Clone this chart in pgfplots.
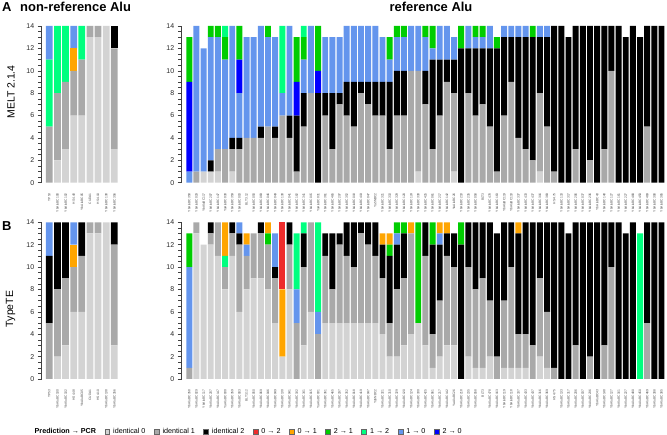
\documentclass[border=0pt]{standalone}
\usepackage{fontspec}
\setmainfont{Liberation Sans}
\usepackage{pgfplots}
\pgfplotsset{compat=1.18}
\usepackage{pgfplotstable}

\definecolor{cI0}{HTML}{D3D3D3}
\definecolor{cI1}{HTML}{A9A9A9}
\definecolor{cI2}{HTML}{000000}
\definecolor{cA02}{HTML}{EE2C2C}
\definecolor{cA01}{HTML}{FFA500}
\definecolor{cA21}{HTML}{00CD00}
\definecolor{cA12}{HTML}{00FF7F}
\definecolor{cA10}{HTML}{6495ED}
\definecolor{cA20}{HTML}{0000FF}

% non-reference Alu: identical 0/1/2, 0->1, 1->2, 1->0
\pgfplotstableread{
x i0 i1 i2 a01 a12 a10
1 0 5 0 0 6 3
2 2 6 0 0 6 0
3 3 6 0 0 5 0
4 6 4 0 2 0 2
5 6 5 0 0 3 0
6 13 1 0 0 0 0
7 13 1 0 0 0 0
8 14 0 0 0 0 0
9 3 9 2 0 0 0
}\nonrefMELT

\pgfplotstableread{
x i0 i1 i2 a01 a12 a10
1 0 5 6 0 0 3
2 2 6 6 0 0 0
3 3 6 5 0 0 0
4 6 4 0 2 0 2
5 6 5 3 0 0 0
6 13 1 0 0 0 0
7 13 1 0 0 0 0
8 14 0 0 0 0 0
9 3 9 2 0 0 0
}\nonrefTypeTE

% reference Alu
\pgfplotstableread{
x i0 i1 i2 a10 a20 a21 a12 a01 a02
1 0 0 0 1 8 4 0 0 0
2 0 1 0 13 0 0 0 0 0
3 1 0 0 11 0 0 0 0 0
4 1 0 1 11 0 1 0 0 0
5 1 2 0 10 0 1 0 0 0
6 0 3 0 8 0 2 1 0 0
7 1 2 1 10 0 0 0 0 0
8 0 3 1 4 3 3 0 0 0
9 0 4 0 9 0 0 0 0 0
10 0 4 0 9 0 0 0 0 0
11 0 4 1 9 0 0 0 0 0
12 0 5 0 8 0 1 0 0 0
13 0 4 1 8 0 0 0 0 0
14 0 6 0 2 0 0 6 0 0
15 0 4 2 8 0 0 0 0 0
16 0 1 5 0 3 4 0 0 0
17 0 5 3 3 0 2 1 0 0
18 0 8 0 6 0 0 0 0 0
19 0 0 8 0 2 4 0 0 0
20 0 6 2 5 0 0 0 0 0
21 0 3 5 5 0 0 0 0 0
22 0 7 1 5 0 0 0 0 0
23 0 6 3 5 0 0 0 0 0
24 0 5 4 5 0 0 0 0 0
25 0 8 1 5 0 0 0 0 0
26 0 7 2 5 0 0 0 0 0
27 0 6 3 5 0 0 0 0 0
28 0 6 3 4 0 0 0 0 0
29 0 3 6 2 0 2 0 0 0
30 0 6 4 3 0 1 0 0 0
31 0 6 4 3 0 1 0 0 0
32 0 10 0 4 0 0 0 0 0
33 1 9 0 4 0 0 0 0 0
34 0 7 3 3 0 1 0 0 0
35 0 3 8 1 0 2 0 0 0
36 0 6 5 3 0 0 0 0 0
37 0 9 2 3 0 0 0 0 0
38 1 7 3 2 0 0 0 0 0
39 0 0 12 0 0 2 0 0 0
40 0 8 4 2 0 0 0 0 0
41 0 6 6 1 0 1 0 0 0
42 0 7 5 1 0 1 0 0 0
43 0 5 7 2 0 0 0 0 0
44 0 1 11 0 0 1 0 0 0
45 0 6 7 1 0 0 0 0 0
46 0 9 4 1 0 0 0 0 0
47 0 4 9 1 0 0 0 0 0
48 0 3 10 1 0 0 0 0 0
49 0 2 11 0 0 1 0 0 0
50 1 7 5 1 0 0 0 0 0
51 0 5 8 1 0 0 0 0 0
52 0 1 13 0 0 0 0 0 0
53 0 0 14 0 0 0 0 0 0
54 0 0 13 0 0 0 0 0 0
55 0 3 11 0 0 0 0 0 0
56 0 0 14 0 0 0 0 0 0
57 0 2 12 0 0 0 0 0 0
58 0 0 14 0 0 0 0 0 0
59 0 3 11 0 0 0 0 0 0
60 0 10 4 0 0 0 0 0 0
61 0 0 14 0 0 0 0 0 0
62 0 0 13 0 0 0 0 0 0
63 0 0 14 0 0 0 0 0 0
64 0 0 13 0 0 0 0 0 0
65 0 5 9 0 0 0 0 0 0
66 0 0 14 0 0 0 0 0 0
67 0 0 14 0 0 0 0 0 0
}\refMELT

\pgfplotstableread{
x i0 i1 i2 a10 a20 a21 a12 a01 a02
1 0 1 0 9 0 3 0 0 0
2 13 1 0 0 0 0 0 0 0
3 12 0 0 0 0 0 0 0 0
4 12 1 1 0 0 0 0 0 0
5 11 3 0 0 0 0 0 0 0
6 8 2 0 0 0 0 1 3 0
7 11 2 1 0 0 0 0 0 0
8 6 6 1 1 0 0 0 0 0
9 8 3 0 1 0 0 0 1 0
10 9 4 0 0 0 0 0 0 0
11 9 4 1 0 0 0 0 0 0
12 8 4 0 0 0 1 0 1 0
13 5 4 1 3 0 0 0 0 0
14 2 0 0 0 0 0 0 6 6
15 8 4 2 0 0 0 0 0 0
16 0 5 0 3 0 0 5 0 0
17 3 7 3 0 0 0 1 0 0
18 6 8 0 0 0 0 0 0 0
19 0 4 0 2 0 0 8 0 0
20 5 6 2 0 0 0 0 0 0
21 5 3 5 0 0 0 0 0 0
22 5 7 1 0 0 0 0 0 0
23 5 6 3 0 0 0 0 0 0
24 5 5 4 0 0 0 0 0 0
25 5 8 1 0 0 0 0 0 0
26 5 7 2 0 0 0 0 0 0
27 5 6 3 0 0 0 0 0 0
28 4 5 3 0 0 0 0 1 0
29 2 3 6 0 0 1 0 1 0
30 2 6 4 1 0 1 0 0 0
31 3 6 4 0 0 1 0 0 0
32 4 9 0 0 0 0 0 1 0
33 5 0 0 0 0 9 0 0 0
34 3 8 3 0 0 0 0 0 0
35 1 3 8 0 0 2 0 0 0
36 2 5 5 1 0 0 0 1 0
37 3 8 2 0 0 0 0 1 0
38 3 7 3 0 0 0 0 0 0
39 0 0 12 0 0 2 0 0 0
40 2 8 4 0 0 0 0 0 0
41 1 7 6 0 0 0 0 0 0
42 1 8 5 0 0 0 0 0 0
43 2 5 7 0 0 0 0 0 0
44 0 2 11 0 0 0 0 0 0
45 1 6 7 0 0 0 0 0 0
46 1 9 4 0 0 0 0 0 0
47 1 3 9 0 0 0 0 1 0
48 1 3 10 0 0 0 0 0 0
49 0 3 11 0 0 0 0 0 0
50 2 7 5 0 0 0 0 0 0
51 1 5 8 0 0 0 0 0 0
52 0 1 13 0 0 0 0 0 0
53 0 0 14 0 0 0 0 0 0
54 0 0 13 0 0 0 0 0 0
55 0 3 11 0 0 0 0 0 0
56 0 0 14 0 0 0 0 0 0
57 0 2 12 0 0 0 0 0 0
58 0 0 14 0 0 0 0 0 0
59 0 3 11 0 0 0 0 0 0
60 0 10 4 0 0 0 0 0 0
61 0 0 14 0 0 0 0 0 0
62 0 0 13 0 0 0 0 0 0
63 0 0 14 0 0 0 0 0 0
64 0 0 0 0 0 0 13 0 0
65 0 5 9 0 0 0 0 0 0
66 0 0 14 0 0 0 0 0 0
67 0 0 14 0 0 0 0 0 0
}\refTypeTE

\pgfplotsset{
  rbar/.style={
    scale only axis, height=156.7bp,
    ybar stacked, bar width=0.83,
    ymin=0, ymax=14,
    axis y line*=left, axis x line*=bottom,
    x axis line style={draw=none},
    xtick style={draw=none},
    y axis line style={black!75, line width=0.6bp},
    ytick={0,2,...,14}, minor tick num=3,
    tick align=outside,
    major tick length=4bp, minor tick length=3.5bp,
    ytick style={black!75, line width=0.5bp},
    yticklabel style={font=\fontsize{7}{8}\selectfont, text=black!85},
    /pgf/number format/assume math mode=true,
    xticklabel shift=6bp,
    xticklabel style={rotate=90, anchor=east, inner sep=0.3bp,
      font=\fontsize{3.3}{4}\selectfont, text=black!70},
  },
  nonreflab/.style={xtick={1,...,9},
    xticklabels={TP53,YbAluBC100,YbAluBC102,HS4.48,YbAluBC05,CUDA1,HS4.10,YbAluBC138,YbAluBC356}},
  reflab/.style={xtick={1,...,67},
    xticklabels={YbAluBC358,YbAluBC029,YbAluBC117,YbAluBC207,YbAluBC147,YaAluBC030,YbAluBC359,YbAluBC003,BLT3.12,YbAluBC050,YbAluBC069,YbAluBC046,YbAluBC049,YbAluBC130,YbAluBC041,YbAluBC182,YbAluBC341,YbAluBC015,YaAluBC031,YbAluBC361,YbAluBC465,YbAluBC297,YbAluBC352,YbAluBC018,YbAluBC419,YbAluBC047,Ya5NBC2,YbAluBC321,YbAluBC310,YbAluBC329,YbAluBC120,YbAluBC124,YbAluBC330,YbAluBC425,YbAluBC061,YbAluBC217,YbAluBC142,YaAluBC26,YbAluBC218,YbAluBC235,YbAluBC058,BLT3,YbAluBC478,YbAluBC163,YbAluBC119,YbAluBC118,YbAluBC337,YbAluBC433,YbAluBC437,YbAluBC316,YbAluBC369,HS4.75,YbAluBC133,YbAluBC317,YbAluBC206,YbAluBC037,YbAluBC236,YbAluBC43,YbAluBC148,YbAluBC127,YbAluBC161,YbAluBC227,YbAluBC480,YbAluBC450,YbAluBC469,YbAluBC308,YbAluBC385}},
}

\begin{document}
\begin{tikzpicture}

% ---------- A: MELT ----------
\begin{axis}[rbar, nonreflab, at={(41.7bp,252.3bp)}, anchor=south west,
  width=77.5bp, xmin=0.06, xmax=9.6]
  \addplot[fill=cI0, draw=none] table[x=x, y=i0] {\nonrefMELT};
  \addplot[fill=cI1, draw=none] table[x=x, y=i1] {\nonrefMELT};
  \addplot[fill=cI2, draw=none] table[x=x, y=i2] {\nonrefMELT};
  \addplot[fill=cA01, draw=none] table[x=x, y=a01] {\nonrefMELT};
  \addplot[fill=cA12, draw=none] table[x=x, y=a12] {\nonrefMELT};
  \addplot[fill=cA10, draw=none] table[x=x, y=a10] {\nonrefMELT};
\end{axis}

\begin{axis}[rbar, reflab, at={(181.7bp,252.3bp)}, anchor=south west,
  width=483.4bp, xmin=-0.062, xmax=67.5]
  \addplot[fill=cI0, draw=none] table[x=x, y=i0] {\refMELT};
  \addplot[fill=cI1, draw=none] table[x=x, y=i1] {\refMELT};
  \addplot[fill=cI2, draw=none] table[x=x, y=i2] {\refMELT};
  \addplot[fill=cA10, draw=none] table[x=x, y=a10] {\refMELT};
  \addplot[fill=cA20, draw=none] table[x=x, y=a20] {\refMELT};
  \addplot[fill=cA21, draw=none] table[x=x, y=a21] {\refMELT};
  \addplot[fill=cA12, draw=none] table[x=x, y=a12] {\refMELT};
  \addplot[fill=cA01, draw=none] table[x=x, y=a01] {\refMELT};
  \addplot[fill=cA02, draw=none] table[x=x, y=a02] {\refMELT};
\end{axis}

% ---------- B: TypeTE ----------
\begin{axis}[rbar, nonreflab, at={(41.7bp,56bp)}, anchor=south west,
  width=77.5bp, xmin=0.06, xmax=9.6,
  legend columns=10,
  legend image code/.code={\draw[#1] (0bp,-2.4bp) rectangle (4.8bp,2.4bp);},
  legend style={at={(-0.138,-0.338)}, anchor=west, draw=none, fill=none,
    inner sep=0pt, font=\fontsize{7.2}{8}\selectfont,
    nodes={inner sep=1.5bp},
    /tikz/every even column/.append style={column sep=7bp},
    /tikz/every odd column/.append style={column sep=2bp}}]
  \addlegendimage{empty legend}
  \addlegendentry{\textbf{Prediction → PCR}}
  \addlegendimage{fill=cI0, draw=black!60, line width=0.3bp}
  \addlegendentry{identical 0}
  \addlegendimage{fill=cI1, draw=black!60, line width=0.3bp}
  \addlegendentry{identical 1}
  \addlegendimage{fill=cI2, draw=black!60, line width=0.3bp}
  \addlegendentry{identical 2}
  \addlegendimage{fill=cA02, draw=black!60, line width=0.3bp}
  \addlegendentry{0 → 2}
  \addlegendimage{fill=cA01, draw=black!60, line width=0.3bp}
  \addlegendentry{0 → 1}
  \addlegendimage{fill=cA21, draw=black!60, line width=0.3bp}
  \addlegendentry{2 → 1}
  \addlegendimage{fill=cA12, draw=black!60, line width=0.3bp}
  \addlegendentry{1 → 2}
  \addlegendimage{fill=cA10, draw=black!60, line width=0.3bp}
  \addlegendentry{1 → 0}
  \addlegendimage{fill=cA20, draw=black!60, line width=0.3bp}
  \addlegendentry{2 → 0}
  \addplot[fill=cI0, draw=none, forget plot] table[x=x, y=i0] {\nonrefTypeTE};
  \addplot[fill=cI1, draw=none, forget plot] table[x=x, y=i1] {\nonrefTypeTE};
  \addplot[fill=cI2, draw=none, forget plot] table[x=x, y=i2] {\nonrefTypeTE};
  \addplot[fill=cA01, draw=none, forget plot] table[x=x, y=a01] {\nonrefTypeTE};
  \addplot[fill=cA12, draw=none, forget plot] table[x=x, y=a12] {\nonrefTypeTE};
  \addplot[fill=cA10, draw=none, forget plot] table[x=x, y=a10] {\nonrefTypeTE};
\end{axis}

\begin{axis}[rbar, reflab, at={(181.7bp,56bp)}, anchor=south west,
  width=483.4bp, xmin=-0.062, xmax=67.5]
  \addplot[fill=cI0, draw=none] table[x=x, y=i0] {\refTypeTE};
  \addplot[fill=cI1, draw=none] table[x=x, y=i1] {\refTypeTE};
  \addplot[fill=cI2, draw=none] table[x=x, y=i2] {\refTypeTE};
  \addplot[fill=cA10, draw=none] table[x=x, y=a10] {\refTypeTE};
  \addplot[fill=cA20, draw=none] table[x=x, y=a20] {\refTypeTE};
  \addplot[fill=cA21, draw=none] table[x=x, y=a21] {\refTypeTE};
  \addplot[fill=cA12, draw=none] table[x=x, y=a12] {\refTypeTE};
  \addplot[fill=cA01, draw=none] table[x=x, y=a01] {\refTypeTE};
  \addplot[fill=cA02, draw=none] table[x=x, y=a02] {\refTypeTE};
\end{axis}

% ---------- titles ----------
\node[anchor=base west, inner sep=0, font=\bfseries\fontsize{13}{13}\selectfont] at (2bp,423.3bp) {A};
\node[anchor=base west, inner sep=0, font=\bfseries\fontsize{13}{13}\selectfont] at (20bp,423.3bp) {non-reference Alu};
\node[anchor=base, inner sep=0, font=\bfseries\fontsize{13}{13}\selectfont] at (431bp,423.3bp) {reference Alu};
\node[anchor=base west, inner sep=0, font=\bfseries\fontsize{13}{13}\selectfont] at (2bp,204bp) {B};
\node[rotate=90, inner sep=0, font=\fontsize{10.5}{11}\selectfont] at (11bp,343bp) {MELT 2.1.4};
\node[rotate=90, inner sep=0, font=\fontsize{10.5}{11}\selectfont] at (10.5bp,126bp) {TypeTE};

\pgfresetboundingbox
\path[use as bounding box] (0bp,0bp) rectangle (667bp,435bp);
\end{tikzpicture}
\end{document}
